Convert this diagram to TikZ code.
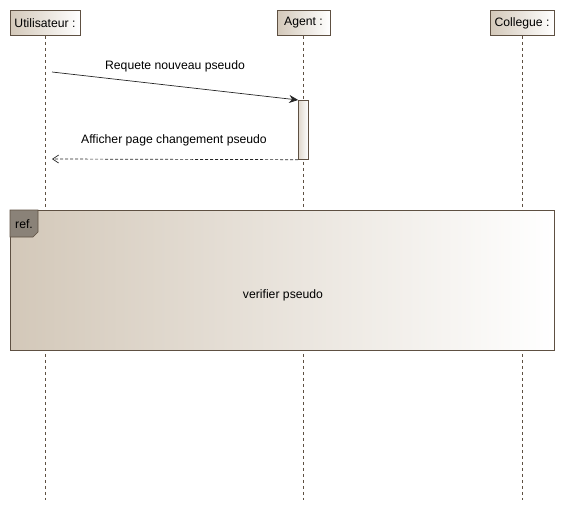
\documentclass[tikz,border=0pt]{standalone}
\usepackage{fontspec}
\setmainfont{Liberation Sans}
\usetikzlibrary{arrows.meta}
\definecolor{edge}{HTML}{5E5042}
\definecolor{tan}{HTML}{D3C8B9}
\definecolor{tabfill}{HTML}{8A8278}
\begin{document}
\begin{tikzpicture}[x=1pt,y=-1pt,
  font=\fontsize{12.2}{14}\selectfont,
  head/.style={draw=edge,line width=0.8pt,left color=tan,right color=white,inner sep=0pt,minimum height=25pt,anchor=north},
  life/.style={draw=edge,dashed,dash pattern=on 3pt off 3pt,line width=0.7pt},
  msg/.style={draw=black!85,line width=0.7pt},
  lbl/.style={inner sep=0pt,text=black}]
\useasboundingbox (0,0) rectangle (565,511);
% heads
\node[head,minimum width=70pt] (u) at (45,10) {Utilisateur :};
\node[head,minimum width=53pt] (a) at (303.5,10) {Agent :};
\node[head,minimum width=64pt] (c) at (522,10) {Collegue :};
\coordinate (ue) at (45,500);
\coordinate (ae) at (303.5,500);
\coordinate (ce) at (522,500);
\draw[life] (u.south) -- (ue);
\draw[life] (a.south) -- (ae);
\draw[life] (c.south) -- (ce);
% activation
\node[draw=edge,line width=0.7pt,left color=tan!70,right color=white,minimum width=10pt,minimum height=59pt,inner sep=0pt,anchor=north] (act) at (303.5,100) {};
\coordinate (m1s) at (52,72);
\coordinate (m2e) at (52,159);
\draw[msg,-{Stealth[length=9pt,width=8pt]}] (m1s) -- (act.north west);
\node[lbl] (l1) at (175,66.5) {Requete nouveau pseudo};
\draw[msg,dashed,dash pattern=on 3pt off 2pt,-{Straight Barb[length=6pt,width=8pt]}] (act.south west) -- (m2e);
\node[lbl] (l2) at (174,140.5) {Afficher page changement pseudo};
% ref frame
\node[draw=edge,line width=0.8pt,left color=tan,right color=white,minimum width=544pt,minimum height=140pt,inner sep=0pt,anchor=north west] (ref) at (10,210) {};
\fill[tabfill,draw=edge,line width=0.7pt] (ref.north west) -- ++(28,0) -- ++(0,22) -- ++(-5,5) -- ++(-23,0) -- cycle;
\node[lbl,anchor=west] (rt) at (15,224) {ref.};
\node[lbl] (vt) at (283,295) {verifier pseudo};
\end{tikzpicture}
\end{document}
